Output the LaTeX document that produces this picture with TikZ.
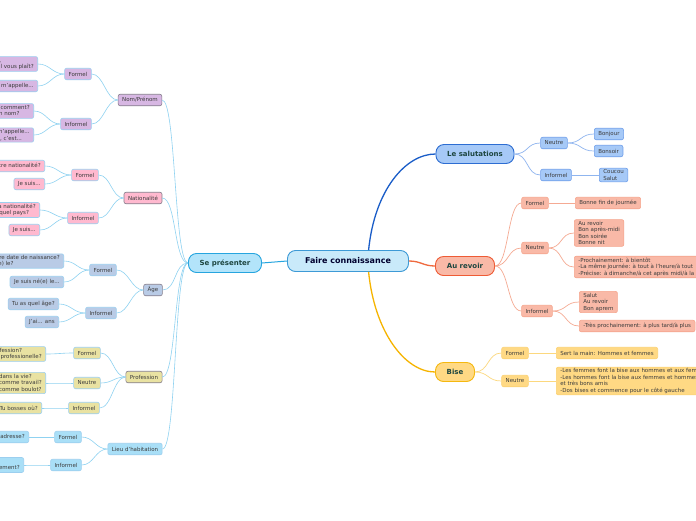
\documentclass[tikz,border=0pt]{standalone}
\usepackage{fontspec}
\setmainfont{DejaVu Sans}
\usetikzlibrary{positioning}

\begin{document}
\begin{tikzpicture}[x=1pt,y=-1pt]
    \definecolor{coltext}{HTML}{3C3C3C}
    \definecolor{coltitle}{HTML}{1D4640}
    \definecolor{colroot}{HTML}{C9EAFA}
    \definecolor{colrootb}{HTML}{3D9AD6}
    \definecolor{colsp}{HTML}{B3E4FA}
    \definecolor{colspb}{HTML}{26A5DF}
    \definecolor{colleft}{HTML}{8FD2F1}
    \definecolor{colleftb}{HTML}{9CCFEF}
    \definecolor{colmainb}{HTML}{857E8C}
    \definecolor{colnp}{HTML}{D7B7E3}
    \definecolor{colnat}{HTML}{FFB9CF}
    \definecolor{colage}{HTML}{B9CBE6}
    \definecolor{colprof}{HTML}{E9E2A2}
    \definecolor{collieu}{HTML}{A9DFF7}
    \definecolor{colls}{HTML}{A6C9F7}
    \definecolor{collsb}{HTML}{2D6DD2}
    \definecolor{collssub}{HTML}{6E9EEA}
    \definecolor{collsconn}{HTML}{1A5DC8}
    \definecolor{collssubconn}{HTML}{8FB5EF}
    \definecolor{colar}{HTML}{F9B9A7}
    \definecolor{colarb}{HTML}{EE5B35}
    \definecolor{colarsub}{HTML}{F5A58D}
    \definecolor{colarconn}{HTML}{EF6A3F}
    \definecolor{colarsubconn}{HTML}{F5AA93}
    \definecolor{colbi}{HTML}{FFD984}
    \definecolor{colbib}{HTML}{F5B80F}
    \definecolor{colbisub}{HTML}{FBD172}
    \definecolor{colbiconn}{HTML}{F6B400}
    \definecolor{colbisubconn}{HTML}{FCD87E}

    \tikzstyle{box}=[draw,rounded corners=2pt,line width=0.6pt,inner xsep=4pt,inner ysep=1.5pt,
                     minimum height=11.5pt,align=left,text=coltext,font=\fontsize{5.5}{6.5}\selectfont]
    \tikzstyle{topic}=[draw,rounded corners=8pt,line width=0.9pt,inner xsep=4pt,minimum height=19pt,
                       text=coltitle,font=\bfseries\fontsize{7}{8}\selectfont]
    \tikzstyle{lconn}=[colleft,line width=0.6pt]

    \useasboundingbox (0,0) rectangle (696,520);
    \clip (0,0) rectangle (696,520);
    \fill[white] (0,0) rectangle (696,520);

    % root
    \node[topic,fill=colroot,draw=colrootb,minimum width=121pt,minimum height=21pt,
          text=black!70!blue!60!black,font=\bfseries\fontsize{8}{9}\selectfont] (fc) at (348,261) {Faire connaissance};
    % main topics
    \node[topic,fill=colsp,draw=colspb,minimum width=73pt] (sp) at (225,263) {Se présenter};
    \node[topic,fill=colls,draw=collsb,minimum width=78pt] (ls) at (475,154) {Le salutations};
    \node[topic,fill=colar,draw=colarb,minimum width=59pt] (ar) at (465,266) {Au revoir};
    \node[topic,fill=colbi,draw=colbib,minimum width=39pt] (bi) at (455,372) {Bise};

    % le salutations
    \node[box,fill=colls,draw=collssub] (lsn) at (554,143) {Neutre};
    \node[box,fill=colls,draw=collssub] (lsi) at (556,175) {Informel};
    \node[box,fill=colls,draw=collssub,anchor=west] (ls1) at (594,134) {Bonjour};
    \node[box,fill=colls,draw=collssub,anchor=west] (ls2) at (594,151) {Bonsoir};
    \node[box,fill=colls,draw=collssub,anchor=west] (ls3) at (599,175) {Coucou\\Salut};

    % au revoir
    \node[box,fill=colar,draw=colarsub] (arf) at (535,203) {Formel};
    \node[box,fill=colar,draw=colarsub] (arn) at (535,248) {Neutre};
    \node[box,fill=colar,draw=colarsub] (ari) at (537,311) {Informel};
    \node[box,fill=colar,draw=colarsub,anchor=west] (ar1) at (575,203) {Bonne fin de journée};
    \node[box,fill=colar,draw=colarsub,anchor=west] (ar2) at (574,233) {Au revoir\\Bon après-midi\\Bon soirée\\Bonne nit};
    \node[box,fill=colar,draw=colarsub,anchor=west] (ar3) at (574,267)
        {-Prochainement: à bientôt\\-La même journée: à tout à l'heure/à tout\\-Précise: à dimanche/à cet après midi/à la semaine prochaine};
    \node[box,fill=colar,draw=colarsub,anchor=west] (ar4) at (579,302) {Salut\\Au revoir\\Bon aprem};
    \node[box,fill=colar,draw=colarsub,anchor=west] (ar5) at (579,326) {-Très prochainement: à plus tard/à plus};

    % bise
    \node[box,fill=colbi,draw=colbisub] (bif) at (515,353) {Formel};
    \node[box,fill=colbi,draw=colbisub] (bin) at (515,381) {Neutre};
    \node[box,fill=colbi,draw=colbisub,anchor=west] (bi1) at (556,353) {Sert la main: Hommes et femmes};
    \node[box,fill=colbi,draw=colbisub,anchor=west] (bi2) at (556,381)
        {-Les femmes font la bise aux hommes et aux femmes\\-Les hommes font la bise aux femmes et hommes proches\\et très bons amis\\-Dos bises et commence pour le côté gauche};

    % nom/prenom
    \node[box,fill=colnp,draw=colmainb] (np) at (140,100) {Nom/Prénom};
    \node[box,fill=colnp,draw=colleftb] (npf) at (78,74) {Formel};
    \node[box,fill=colnp,draw=colleftb] (npi) at (76,124) {Informel};
    \node[box,fill=colnp,draw=colleftb,anchor=east] (np1) at (38,64) {Quel est votre nom,\\et votre prénom, s'il vous plaît?};
    \node[box,fill=colnp,draw=colleftb,anchor=east] (np2) at (38,86) {Je m'appelle...};
    \node[box,fill=colnp,draw=colleftb,anchor=east] (np3) at (34,111) {Tu t'appelles comment?\\C'est quoi ton nom?};
    \node[box,fill=colnp,draw=colleftb,anchor=east] (np4) at (34,135) {Je m'appelle...\\Moi, c'est...};

    % nationalite
    \node[box,fill=colnat,draw=colmainb] (nat) at (143,198) {Nationalité};
    \node[box,fill=colnat,draw=colleftb] (natf) at (85,175) {Formel};
    \node[box,fill=colnat,draw=colleftb] (nati) at (83,218) {Informel};
    \node[box,fill=colnat,draw=colleftb,anchor=east] (nat1) at (45,166) {Quelle est votre nationalité?};
    \node[box,fill=colnat,draw=colleftb,anchor=east] (nat2) at (45,184) {Je suis...};
    \node[box,fill=colnat,draw=colleftb,anchor=east] (nat3) at (40,210) {C'est quoi ta nationalité?\\Tu viens de quel pays?};
    \node[box,fill=colnat,draw=colleftb,anchor=east] (nat4) at (40,230) {Je suis...};

    % age
    \node[box,fill=colage,draw=colmainb] (age) at (153,290) {Âge};
    \node[box,fill=colage,draw=colleftb] (agef) at (103,270) {Formel};
    \node[box,fill=colage,draw=colleftb] (agei) at (101,313) {Informel};
    \node[box,fill=colage,draw=colleftb,anchor=east] (age1) at (64,261) {Quelle est votre date de naissance?\\Vous êtes né(e) le?};
    \node[box,fill=colage,draw=colleftb,anchor=east] (age2) at (64,282) {Je suis né(e) le...};
    \node[box,fill=colage,draw=colleftb,anchor=east] (age3) at (59,304) {Tu as quel âge?};
    \node[box,fill=colage,draw=colleftb,anchor=east] (age4) at (59,322) {J'ai... ans};

    % profession
    \node[box,fill=colprof,draw=colmainb] (prof) at (144,377) {Profession};
    \node[box,fill=colprof,draw=colleftb] (proff) at (87,353) {Formel};
    \node[box,fill=colprof,draw=colleftb] (profn) at (87,383) {Neutre};
    \node[box,fill=colprof,draw=colleftb] (profi) at (84,408) {Informel};
    \node[box,fill=colprof,draw=colleftb,anchor=east] (prof1) at (46,354) {Quelle est votre profession?\\Quelle est votre vie professionelle?};
    \node[box,fill=colprof,draw=colleftb,anchor=east] (prof2) at (46,383) {Tu fais quoi dans la vie?\\Tu fais quoi comme travail?\\Tu fais quoi comme boulot?};
    \node[box,fill=colprof,draw=colleftb,anchor=east] (prof3) at (42,408) {Tu bosses où?};

    % lieu d'habitation
    \node[box,fill=collieu,draw=colleftb] (lieu) at (135,449) {Lieu d'habitation};
    \node[box,fill=collieu,draw=colleftb] (lieuf) at (68,437) {Formel};
    \node[box,fill=collieu,draw=colleftb] (lieui) at (66,465) {Informel};
    \node[box,fill=collieu,draw=colleftb,anchor=east] (lieu1) at (29,437) {Quelle est votre adresse?};
    \node[box,fill=collieu,draw=colleftb,anchor=east] (lieu2) at (24,465) {Tu habites où?\\C'est où ton appartement?};

    % connectors, root
    \draw[colspb,line width=1pt] (fc.west) -- (sp.east);
    \draw[collsconn,line width=1.3pt] (fc.28) .. controls +(6,-60) and +(-30,0) .. (ls.west);
    \draw[colarconn,line width=1.3pt] (fc.east) .. controls +(12,0) and +(-12,0) .. (ar.west);
    \draw[colbiconn,line width=1.3pt] (fc.-28) .. controls +(6,60) and +(-30,0) .. (bi.west);
    % connectors, right
    \foreach \p/\c in {ls/lsn,ls/lsi,lsn/ls1,lsn/ls2,lsi/ls3}
        \draw[collssubconn,line width=0.7pt] (\p.east) .. controls +(14,0) and +(-14,0) .. (\c.west);
    \foreach \p/\c in {ar/arf,ar/arn,ar/ari,arf/ar1,arn/ar2,arn/ar3,ari/ar4,ari/ar5}
        \draw[colarsubconn,line width=0.7pt] (\p.east) .. controls +(14,0) and +(-14,0) .. (\c.west);
    \foreach \p/\c in {bi/bif,bi/bin,bif/bi1,bin/bi2}
        \draw[colbisubconn,line width=0.7pt] (\p.east) .. controls +(14,0) and +(-14,0) .. (\c.west);
    % connectors, left
    \foreach \c in {np,nat,age,prof,lieu}
        \draw[lconn] (sp.west) .. controls +(-14,0) and +(14,0) .. (\c.east);
    \foreach \p/\c in {np/npf,np/npi,nat/natf,nat/nati,age/agef,age/agei,prof/proff,prof/profn,prof/profi,lieu/lieuf,lieu/lieui,
                       npf/np1,npf/np2,npi/np3,npi/np4,natf/nat1,natf/nat2,nati/nat3,nati/nat4,
                       agef/age1,agef/age2,agei/age3,agei/age4,proff/prof1,profn/prof2,profi/prof3,lieuf/lieu1,lieui/lieu2}
        \draw[lconn] (\p.west) .. controls +(-12,0) and +(12,0) .. (\c.east);
\end{tikzpicture}
\end{document}
